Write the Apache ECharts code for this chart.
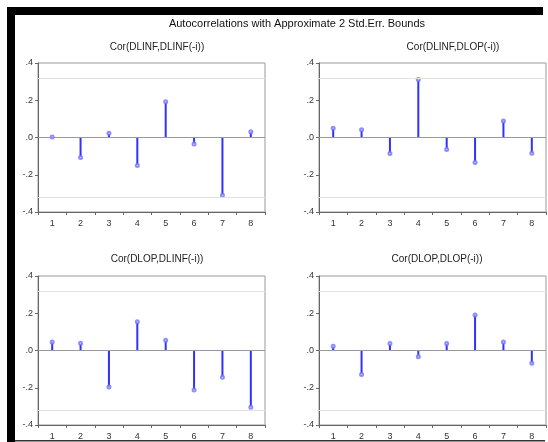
<!DOCTYPE html>
<html>
<head>
<meta charset="utf-8">
<script src="https://cdn.jsdelivr.net/npm/echarts@6/dist/echarts.min.js"></script>
<style>
  html, body { margin: 0; padding: 0; background: #fff; }
  #chart { width: 548px; height: 442px; }
</style>
</head>
<body>
<div id="chart"></div>
<script>
  // lags and cross-correlations
  const lags = ['1', '2', '3', '4', '5', '6', '7', '8']
  const corInfInf = [0.003, -0.107, 0.023, -0.150, 0.192, -0.035, -0.310, 0.031]
  const corInfOp = [0.050, 0.041, -0.086, 0.312, -0.064, -0.134, 0.089, -0.084]
  const corOpInf = [0.046, 0.039, -0.196, 0.154, 0.055, -0.212, -0.143, -0.305]
  const corOpOp = [0.023, -0.129, 0.037, -0.034, 0.038, 0.190, 0.045, -0.069]
  const bound = 0.32
  const yTicks = [-0.4, 0.4, 0.2]  // min, max, interval

  const panels = [
    { name: 'Cor(DLINF,DLINF(-i))', data: corInfInf, left: 38, top: 63, tx: 152, ty: 46 },
    { name: 'Cor(DLINF,DLOP(-i))', data: corInfOp, left: 319, top: 63, tx: 448, ty: 46 },
    { name: 'Cor(DLOP,DLINF(-i))', data: corOpInf, left: 38, top: 276, tx: 152, ty: 258 },
    { name: 'Cor(DLOP,DLOP(-i))', data: corOpOp, left: 319, top: 276, tx: 432, ty: 258 }
  ]

  const chart = echarts.init(document.getElementById('chart'))
  const font = 'Liberation Sans, Arial, sans-serif'

  let option = {
    animation: false,
    textStyle: { fontFamily: font },
    title: [{
      text: 'Autocorrelations with Approximate 2 Std.Err. Bounds',
      left: 292, top: 13, textAlign: 'center',
      textStyle: { fontSize: 11, fontWeight: 'normal', color: '#111', fontFamily: font }
    }],
    grid: [],
    xAxis: [],
    yAxis: [],
    series: [],
    graphic: [
      { type: 'rect', shape: { x: 7, y: 7, width: 536, height: 8 }, style: { fill: '#000' } },
      { type: 'rect', shape: { x: 7, y: 7, width: 8, height: 435 }, style: { fill: '#000' } },
      { type: 'rect', shape: { x: 15, y: 440, width: 530, height: 1.5 }, style: { fill: '#333' } }
    ]
  }

  panels.forEach((p, i) => {
    option.title.push({
      text: p.name, left: p.tx, top: p.ty - 9, textAlign: 'center',
      textStyle: { fontSize: 10, fontWeight: 'normal', color: '#222', fontFamily: font }
    })
    option.grid.push({
      left: p.left, top: p.top, width: 227, height: 149,
      show: true, borderColor: '#999', borderWidth: 1
    })
    option.xAxis.push({
      type: 'category', gridIndex: i, data: lags,
      axisLine: { onZero: false, lineStyle: { color: '#666' } },
      axisTick: { show: true, length: 3, lineStyle: { color: '#666' } },
      axisLabel: { fontSize: 9, color: '#333', margin: 7 }
    })
    option.yAxis.push({
      type: 'value', gridIndex: i, min: yTicks[0], max: yTicks[1], interval: yTicks[2],
      axisLine: { show: true, lineStyle: { color: '#666' } },
      axisTick: { show: true, length: 3, lineStyle: { color: '#666' } },
      splitLine: { show: false },
      axisLabel: {
        fontSize: 9, color: '#333', margin: 5,
        formatter: v => v.toFixed(1).replace('0.', '.')
      }
    })
    option.series.push({
      type: 'bar', xAxisIndex: i, yAxisIndex: i, data: p.data,
      barWidth: 2, itemStyle: { color: '#3030ff' },
      markLine: {
        silent: true, symbol: 'none', label: { show: false },
        data: [
          { yAxis: 0, lineStyle: { color: '#999', type: 'solid', width: 1 } },
          { yAxis: bound, lineStyle: { color: '#e2e2e2', type: 'solid', width: 1 } },
          { yAxis: -bound, lineStyle: { color: '#e2e2e2', type: 'solid', width: 1 } }
        ]
      }
    })
    option.series.push({
      type: 'scatter', xAxisIndex: i, yAxisIndex: i, data: p.data,
      symbol: 'emptyCircle', symbolSize: 3,
      itemStyle: { color: '#7070ff', borderWidth: 1 }
    })
  })

  chart.setOption(option)
</script>
</body>
</html>
